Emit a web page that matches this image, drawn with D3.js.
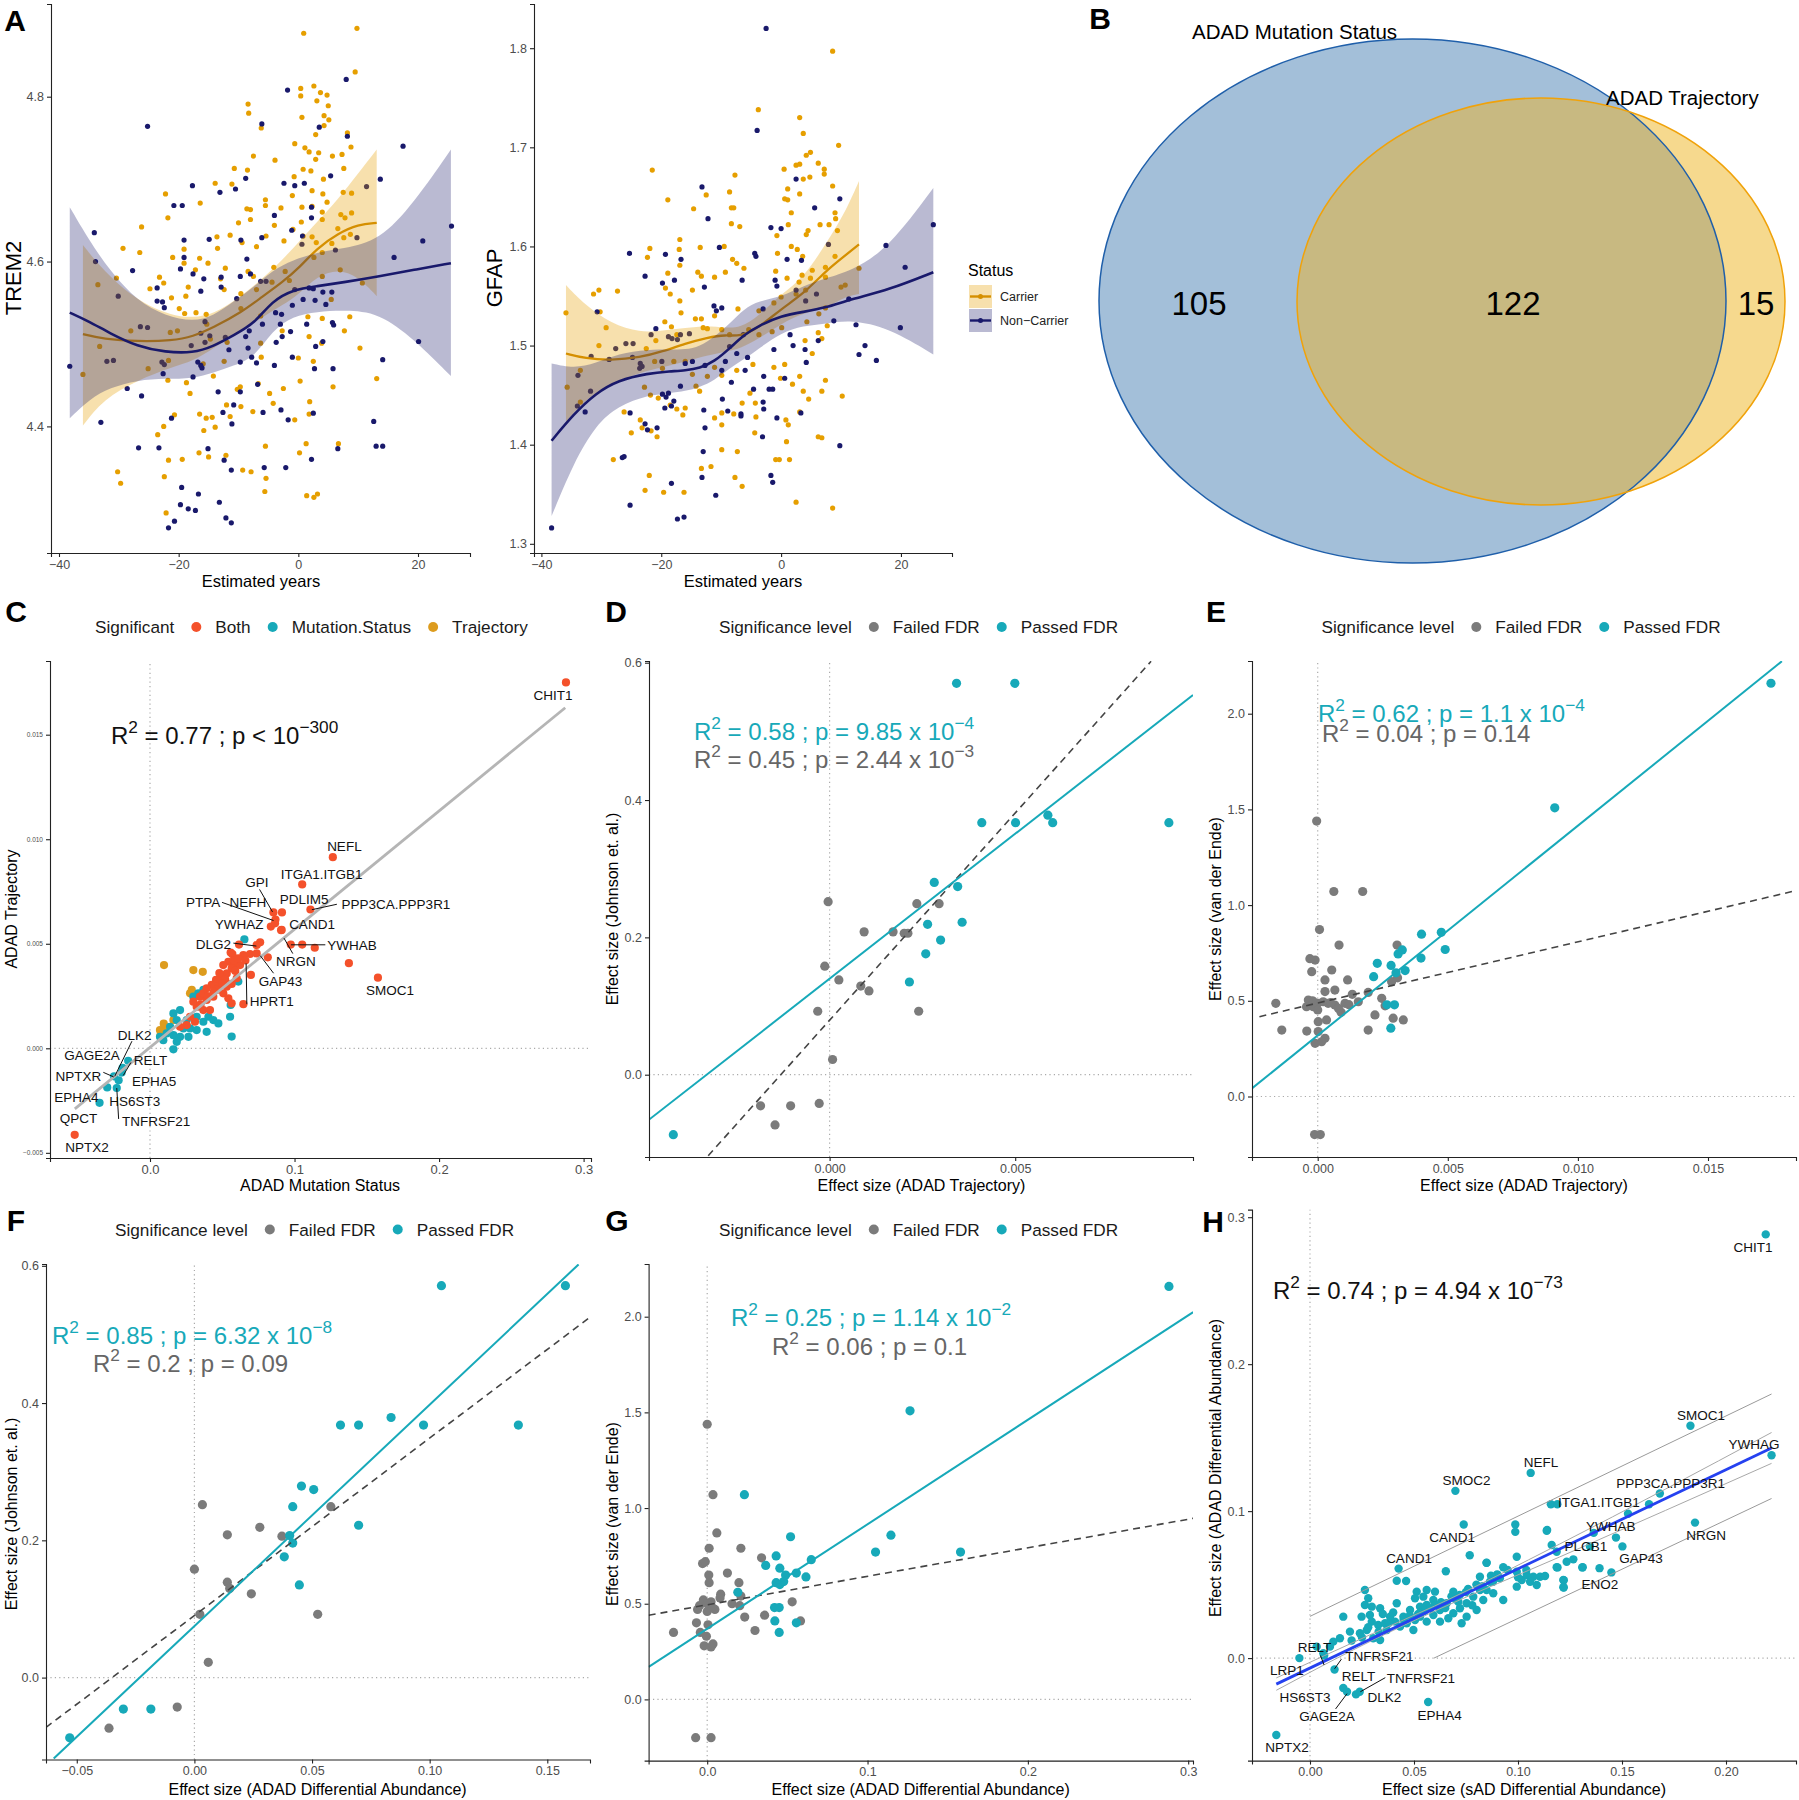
<!DOCTYPE html>
<html>
<head>
<meta charset="utf-8">
<title>ADAD proteomics panels</title>
<style>
  body { margin: 0; background: #fff; }
  svg text { font-family: "Liberation Sans", Arial, Helvetica, sans-serif; }
  .axis path, .axis line { stroke: #222; stroke-width: 1.1px; }
  .axis text { fill: #4d4d4d; }
</style>
</head>
<body>
<div id="fig"></div>
<script src="https://cdnjs.cloudflare.com/ajax/libs/d3/7.8.5/d3.min.js"></script>
<script>
// ---------------- data ----------------

// A: TREM2 / GFAP against estimated years, [years, value]
var trem2Carrier = [[9.8,4.883],[0.9,4.877],[9.5,4.830],[2.6,4.813],[0.4,4.810],[0.4,4.801],[-8.4,4.791],[-8.3,4.780],[3.7,4.805],[4.8,4.802],[3.1,4.795],[5.0,4.789],[0.6,4.775],[4.3,4.777],[5.1,4.772],[4.3,4.765],[-6.2,4.762],[8.2,4.756],[2.9,4.754],[-0.6,4.743],[1.1,4.738],[3.4,4.732],[1.8,4.733],[8.8,4.739],[7.3,4.730],[5.7,4.728],[-7.5,4.728],[-3.9,4.723],[2.9,4.724],[-10.7,4.713],[-8.5,4.711],[0.8,4.712],[7.6,4.713],[2.1,4.710],[-0.7,4.703],[4.2,4.700],[-13.9,4.695],[-11.1,4.694],[2.3,4.686],[7.5,4.684],[8.9,4.683],[-22.2,4.682],[4.1,4.682],[-1.0,4.680],[-5.5,4.675],[-16.4,4.671],[-8.6,4.664],[-8.0,4.663],[-2.9,4.665],[0.6,4.666],[2.3,4.667],[4.0,4.660],[4.8,4.672],[-21.8,4.653],[8.9,4.659],[7.1,4.657],[-5.5,4.668],[-26.2,4.642],[-10.0,4.647],[-8.0,4.651],[-4.0,4.644],[0.5,4.648],[4.0,4.651],[7.8,4.653],[-0.9,4.639],[2.3,4.630],[6.6,4.640],[8.7,4.633],[7.6,4.629],[-29.3,4.616],[-26.5,4.611],[-21.0,4.605],[-19.1,4.615],[-16.5,4.604],[-13.6,4.630],[-13.5,4.616],[-11.4,4.632],[-9.4,4.623],[-7.0,4.618],[-5.4,4.631],[-2.4,4.625],[0.8,4.631],[3.0,4.623],[5.6,4.622],[-19.1,4.598],[-17.2,4.590],[-15.1,4.598],[-12.2,4.592],[-13.0,4.579],[-8.4,4.588],[-7.5,4.582],[-4.1,4.593],[-2.2,4.588],[2.6,4.605],[4.0,4.611],[7.0,4.590],[-23.2,4.581],[-22.5,4.574],[-21.2,4.556],[-18.4,4.569],[-18.8,4.558],[-19.9,4.543],[-19.0,4.537],[-17.1,4.538],[-15.4,4.536],[-24.8,4.567],[-12.4,4.566],[-9.6,4.561],[-7.0,4.566],[-4.4,4.575],[-1.5,4.577],[4.0,4.582],[5.5,4.554],[10.7,4.574],[-33.5,4.572],[-30.4,4.580],[-20.2,4.516],[-15.3,4.524],[-9.6,4.543],[-6.3,4.534],[-2.7,4.516],[1.6,4.533],[4.0,4.531],[8.6,4.533],[7.7,4.516],[-33.2,4.497],[-28.0,4.516],[-21.4,4.514],[-14.7,4.506],[-11.9,4.502],[-6.3,4.501],[1.8,4.509],[3.9,4.501],[10.3,4.495],[-36.0,4.463],[-25.1,4.470],[-21.7,4.480],[-15.9,4.476],[-12.4,4.479],[-6.2,4.484],[0.0,4.483],[2.5,4.479],[-21.8,4.456],[-18.7,4.453],[-18.1,4.440],[-14.2,4.461],[-9.7,4.448],[-6.7,4.452],[-4.8,4.440],[-2.5,4.446],[0.3,4.455],[5.8,4.448],[13.1,4.458],[-10.2,4.445],[-23.5,4.390],[-22.5,4.400],[-20.7,4.414],[-16.5,4.415],[-15.4,4.410],[-14.4,4.411],[-15.8,4.395],[-13.9,4.399],[-12.0,4.426],[-11.4,4.412],[-9.6,4.424],[-7.6,4.418],[-4.2,4.428],[-0.6,4.408],[1.9,4.430],[1.8,4.415],[-22.4,4.339],[-21.7,4.359],[-19.4,4.360],[-16.6,4.368],[-15.0,4.363],[-12.1,4.365],[-9.3,4.347],[-7.9,4.345],[-5.5,4.376],[-5.4,4.337],[-5.6,4.321],[0.2,4.368],[1.3,4.379],[1.4,4.316],[2.6,4.314],[3.2,4.318],[6.7,4.379],[-30.2,4.345],[-29.7,4.331],[-22.1,4.295]];
var trem2NonCarrier = [[8.0,4.821],[-1.8,4.808],[-25.2,4.764],[-6.1,4.767],[3.5,4.763],[8.2,4.752],[17.5,4.740],[-8.8,4.701],[-2.4,4.695],[-0.6,4.692],[1.0,4.695],[5.4,4.704],[13.7,4.700],[11.4,4.691],[-17.7,4.692],[-10.5,4.688],[-13.1,4.684],[-20.8,4.668],[-19.4,4.668],[2.2,4.666],[-4.0,4.656],[2.2,4.653],[-34.1,4.635],[-1.1,4.638],[25.6,4.643],[20.8,4.625],[-19.1,4.626],[-14.9,4.627],[-9.6,4.626],[-6.1,4.629],[0.6,4.621],[-19.1,4.605],[-8.6,4.603],[0.7,4.631],[9.8,4.629],[6.2,4.614],[16.0,4.605],[-33.9,4.600],[-19.7,4.591],[-27.7,4.589],[-17.6,4.585],[-15.8,4.579],[-12.9,4.581],[-9.7,4.582],[-8.0,4.585],[-12.9,4.569],[-16.3,4.564],[-5.4,4.576],[-0.6,4.566],[1.8,4.568],[2.5,4.567],[4.1,4.563],[5.6,4.563],[-23.6,4.568],[-30.1,4.558],[-10.3,4.555],[-6.3,4.576],[-23.6,4.552],[-22.7,4.551],[-22.4,4.544],[-3.8,4.538],[-2.8,4.536],[-1.0,4.547],[0.8,4.554],[2.8,4.553],[4.6,4.548],[-26.4,4.521],[-25.2,4.520],[-15.6,4.527],[-16.3,4.513],[-8.2,4.516],[-6.0,4.524],[-3.0,4.524],[1.4,4.524],[5.7,4.526],[5.9,4.523],[-1.3,4.515],[-2.7,4.509],[-8.8,4.509],[-3.7,4.502],[-14.8,4.510],[-12.2,4.508],[-15.6,4.502],[2.9,4.497],[4.1,4.503],[-17.9,4.498],[-8.4,4.495],[-7.8,4.484],[-11.6,4.493],[-16.8,4.478],[-22.8,4.478],[-22.4,4.475],[-32.0,4.479],[-30.9,4.480],[-38.2,4.473],[-22.6,4.464],[-17.6,4.460],[-16.1,4.471],[-16.3,4.474],[-9.7,4.478],[-7.0,4.477],[-4.0,4.474],[-1.0,4.484],[2.7,4.470],[5.8,4.470],[14.1,4.481],[20.1,4.503],[-28.6,4.446],[-26.2,4.437],[-13.4,4.442],[-6.8,4.451],[-2.9,4.420],[-5.9,4.417],[-1.7,4.408],[2.5,4.416],[-9.7,4.442],[-12.6,4.417],[-10.8,4.426],[-11.1,4.403],[-33.0,4.405],[-21.2,4.410],[12.6,4.406],[-26.7,4.374],[-23.3,4.374],[-15.1,4.373],[-12.4,4.359],[13.0,4.376],[14.1,4.376],[6.6,4.373],[2.2,4.360],[-5.7,4.350],[-2.1,4.350],[-11.2,4.347],[-19.5,4.326],[-16.7,4.318],[-13.2,4.308],[-19.7,4.305],[-18.4,4.300],[-17.2,4.298],[-12.1,4.289],[-11.2,4.283],[-20.7,4.285],[-21.7,4.277]];
// loess fits: [years, fit, lower, upper]
var trem2CarrierFit = [[-36.0,4.512,4.401,4.620],[-32.6,4.506,4.433,4.589],[-26.9,4.503,4.456,4.552],[-21.1,4.504,4.472,4.534],[-17.6,4.509,4.479,4.532],[-14.2,4.520,4.495,4.536],[-9.6,4.538,4.516,4.557],[-6.1,4.557,4.532,4.579],[-2.65,4.575,4.547,4.602],[0.23,4.593,4.561,4.625],[3.1,4.616,4.582,4.648],[6.6,4.634,4.591,4.675],[10.0,4.645,4.582,4.707],[13.1,4.647,4.558,4.736]];
var trem2NonCarrierFit = [[-38.2,4.538,4.410,4.666],[-34.9,4.527,4.433,4.625],[-31.5,4.513,4.447,4.589],[-26.9,4.497,4.456,4.552],[-22.2,4.490,4.458,4.534],[-17.6,4.489,4.458,4.527],[-14.2,4.497,4.465,4.534],[-10.7,4.511,4.474,4.552],[-7.3,4.525,4.484,4.570],[-4.4,4.552,4.516,4.589],[-0.9,4.566,4.534,4.602],[3.1,4.570,4.539,4.611],[7.7,4.575,4.541,4.616],[13.5,4.582,4.538,4.625],[19.3,4.590,4.506,4.671],[25.5,4.598,4.461,4.736]];

var gfapCarrier = [[8.6,1.797],[-3.8,1.738],[3.1,1.730],[3.7,1.714],[9.6,1.702],[4.2,1.692],[4.9,1.695],[2.5,1.682],[3.1,1.683],[6.2,1.684],[7.2,1.678],[7.2,1.673],[0.5,1.678],[3.7,1.668],[4.8,1.670],[-21.5,1.677],[-7.7,1.672],[1.1,1.658],[3.1,1.653],[8.6,1.661],[-18.9,1.647],[-12.5,1.652],[0.6,1.648],[1.1,1.647],[-8.6,1.655],[-14.6,1.638],[-8.3,1.639],[-7.9,1.639],[1.7,1.634],[9.0,1.634],[9.1,1.628],[-16.9,1.607],[-13.5,1.599],[-8.3,1.623],[-6.9,1.620],[-0.7,1.611],[1.2,1.622],[4.2,1.612],[4.5,1.616],[6.5,1.622],[8.0,1.622],[9.4,1.616],[-21.9,1.598],[-22.3,1.589],[-17.0,1.597],[-9.5,1.600],[-0.6,1.593],[1.7,1.600],[2.7,1.597],[3.6,1.590],[9.0,1.590],[-31.3,1.552],[-30.4,1.556],[-27.3,1.555],[-18.9,1.573],[-16.9,1.581],[-13.9,1.574],[-13.3,1.570],[-11.1,1.569],[-9.3,1.574],[-8.1,1.587],[-7.4,1.583],[-6.2,1.578],[-0.9,1.575],[1.0,1.568],[3.0,1.564],[3.5,1.571],[5.2,1.576],[7.4,1.579],[7.4,1.569],[10.0,1.559],[10.7,1.561],[13.0,1.578],[-35.9,1.533],[-30.2,1.534],[-29.2,1.518],[-30.4,1.500],[-19.3,1.558],[-18.5,1.552],[-16.9,1.545],[-14.8,1.556],[-16.7,1.533],[-14.3,1.527],[-13.3,1.527],[-12.3,1.517],[-11.1,1.530],[-7.2,1.537],[-3.7,1.535],[-1.2,1.543],[0.0,1.549],[2.5,1.552],[4.1,1.556],[4.9,1.568],[6.3,1.532],[7.4,1.538],[7.7,1.520],[-19.4,1.524],[-18.3,1.519],[-17.4,1.511],[-20.9,1.505],[-22.5,1.497],[-13.0,1.518],[-9.9,1.516],[-8.6,1.511],[-5.4,1.516],[-3.7,1.511],[-1.5,1.514],[0.1,1.518],[4.3,1.524],[6.2,1.513],[4.0,1.505],[5.2,1.492],[6.8,1.507],[-35.7,1.458],[-33.5,1.475],[-33.5,1.443],[-26.2,1.433],[-22.8,1.458],[-21.8,1.450],[-20.5,1.447],[-23.5,1.425],[-23.2,1.417],[-21.7,1.414],[-20.7,1.408],[-25.0,1.412],[-21.1,1.484],[-19.8,1.477],[-17.9,1.484],[-16.0,1.484],[-14.8,1.471],[-12.3,1.469],[-11.1,1.478],[-9.9,1.470],[-7.4,1.475],[-4.7,1.481],[-1.2,1.478],[-0.1,1.467],[0.6,1.481],[1.9,1.461],[3.1,1.469],[3.7,1.454],[4.6,1.446],[6.8,1.454],[7.4,1.465],[3.1,1.433],[10.2,1.449],[-18.5,1.440],[-17.4,1.436],[-16.4,1.430],[-16.0,1.437],[-14.2,1.459],[-13.6,1.454],[-11.1,1.427],[-9.9,1.420],[-9.9,1.432],[-7.9,1.431],[-6.5,1.442],[-5.2,1.452],[-4.3,1.442],[-4.2,1.428],[-4.4,1.412],[0.8,1.425],[0.9,1.403],[1.2,1.420],[-0.9,1.385],[-0.3,1.385],[1.4,1.385],[6.2,1.408],[6.8,1.407],[-28.0,1.385],[-22.0,1.369],[-22.7,1.354],[-19.6,1.352],[-16.2,1.352],[-13.3,1.376],[-11.7,1.378],[-9.9,1.395],[-7.7,1.367],[-7.3,1.393],[-6.5,1.358],[2.5,1.342],[8.6,1.336]];
var gfapNonCarrier = [[-2.5,1.820],[-4.0,1.717],[2.5,1.668],[9.8,1.648],[-13.2,1.660],[-12.2,1.628],[5.6,1.639],[-1.7,1.619],[0.0,1.618],[7.9,1.602],[17.5,1.601],[25.4,1.622],[-25.3,1.593],[-19.3,1.592],[-10.3,1.599],[-4.4,1.593],[-4.2,1.590],[1.0,1.587],[3.4,1.586],[-16.7,1.587],[20.7,1.579],[-22.7,1.570],[-19.8,1.563],[-6.5,1.566],[-1.0,1.566],[-0.7,1.560],[-17.8,1.566],[-12.8,1.559],[-11.2,1.540],[-9.9,1.538],[-10.8,1.535],[-3.0,1.537],[2.5,1.556],[4.1,1.545],[5.9,1.552],[-30.7,1.534],[-21.7,1.511],[-20.9,1.517],[-17.3,1.506],[-16.8,1.511],[-15.3,1.512],[-18.2,1.507],[-18.8,1.509],[-25.9,1.502],[-24.7,1.502],[-27.6,1.497],[-28.7,1.486],[-31.7,1.489],[-24.8,1.488],[-23.5,1.482],[-23.2,1.479],[-23.6,1.477],[-19.9,1.484],[-16.0,1.482],[-14.8,1.484],[-12.7,1.480],[-8.6,1.499],[-7.4,1.492],[-9.3,1.484],[-8.3,1.463],[-9.9,1.475],[-6.0,1.475],[-5.6,1.488],[-6.3,1.511],[-1.2,1.496],[1.5,1.511],[2.0,1.500],[6.2,1.505],[4.2,1.483],[4.0,1.496],[8.8,1.525],[11.3,1.547],[12.5,1.521],[19.9,1.518],[13.0,1.491],[14.0,1.500],[15.9,1.485],[-33.9,1.470],[-31.8,1.454],[-32.7,1.433],[-34.0,1.439],[-25.2,1.432],[-22.7,1.421],[-22.3,1.415],[-20.7,1.417],[-19.8,1.451],[-19.2,1.448],[-19.4,1.437],[-18.8,1.452],[-18.3,1.439],[-17.9,1.444],[-16.8,1.459],[-12.9,1.435],[-12.7,1.417],[-9.8,1.446],[-8.9,1.434],[-6.7,1.431],[-6.7,1.429],[-4.6,1.456],[-2.9,1.436],[-3.0,1.443],[-2.0,1.456],[-1.4,1.456],[-0.7,1.427],[-2.9,1.469],[0.6,1.467],[3.3,1.432],[-3.1,1.408],[9.8,1.399],[-13.0,1.393],[-13.2,1.367],[-18.3,1.361],[-26.5,1.387],[-26.2,1.388],[-25.2,1.339],[-17.3,1.325],[-16.2,1.327],[-10.9,1.349],[-1.7,1.369],[-1.4,1.362],[-38.3,1.316]];
var gfapCarrierFit = [[-35.9,1.492,1.423,1.561],[-32.7,1.487,1.446,1.541],[-28.4,1.485,1.461,1.522],[-23.5,1.488,1.473,1.513],[-19.8,1.494,1.478,1.515],[-16.0,1.502,1.484,1.518],[-12.3,1.508,1.490,1.520],[-9.3,1.511,1.494,1.518],[-6.8,1.509,1.497,1.518],[-3.7,1.518,1.507,1.530],[0.0,1.537,1.522,1.552],[3.7,1.552,1.533,1.568],[7.4,1.575,1.537,1.602],[10.5,1.590,1.549,1.632],[13.0,1.602,1.552,1.666]];
var gfapNonCarrierFit = [[-38.3,1.404,1.328,1.482],[-34.6,1.431,1.382,1.477],[-30.9,1.452,1.420,1.482],[-27.2,1.465,1.439,1.492],[-22.2,1.472,1.450,1.496],[-18.5,1.474,1.452,1.496],[-16.0,1.475,1.454,1.496],[-13.6,1.477,1.458,1.499],[-11.1,1.484,1.465,1.509],[-8.6,1.497,1.477,1.522],[-6.2,1.511,1.486,1.537],[-3.7,1.520,1.497,1.545],[0.0,1.530,1.513,1.549],[3.7,1.534,1.520,1.560],[7.4,1.538,1.522,1.568],[11.7,1.547,1.526,1.575],[17.9,1.556,1.518,1.598],[25.4,1.574,1.491,1.659]];
var statusLabels = ['Carrier', 'Non\u2212Carrier'];

// B: Venn counts
var vennSets = ['ADAD Mutation Status', 'ADAD Trajectory'];
var vennCounts = [105, 122, 15];

// C: ADAD Mutation Status vs ADAD Trajectory
var cBoth = [[0.2878,0.0175],[0.1265,0.00914],[0.1053,0.00784],[0.111,0.00664],[0.0854,0.0065],[0.0913,0.0065],[0.0868,0.00616],[0.0836,0.00582],[0.0907,0.00565],[0.0974,0.00496],[0.1053,0.00496],[0.114,0.00481],[0.1376,0.00407],[0.1577,0.00338],[0.0698,0.00351],[0.0815,0.00435],[0.0616,0.00496],[0.0762,0.00507],[0.057,0.0045],[0.0646,0.00211],[0.0865,0.00598],[0.0911,0.00566],[0.0738,0.00494],[0.0558,0.00458],[0.0646,0.00446],[0.0692,0.00451],[0.0738,0.00454],[0.0542,0.00414],[0.0588,0.00406],[0.0623,0.00398],[0.0507,0.00398],[0.0565,0.00382],[0.0531,0.00358],[0.0496,0.00342],[0.0457,0.00327],[0.0427,0.00303],[0.0392,0.00287],[0.0473,0.00295],[0.0531,0.00295],[0.0565,0.00308],[0.0507,0.00263],[0.0542,0.00239],[0.0565,0.00215],[0.0346,0.00247],[0.0392,0.00231],[0.0438,0.00247],[0.0323,0.00199],[0.0369,0.00183],[0.0415,0.00183],[0.0277,0.00151],[0.0311,0.00127],[0.0254,0.00111],[0.0208,0.00103],[0.0600,0.00335],[0.0461,0.00279],[0.0369,0.00263],[0.0300,0.00223],[0.0480,0.00360],[0.0520,0.00330],[0.0590,0.00370],[0.0440,0.00270],[0.0350,0.00210],[0.0580,0.00420],[0.0610,0.00430],[0.0660,0.00420],[0.0400,0.00250],[0.0500,0.00310],[-0.0521,-0.00414]];
var cMutation = [[0.0653,0.00521],[0.0611,0.00319],[0.0554,0.00151],[0.0565,0.00056],[0.0558,0.00207],[0.0369,0.00279],[0.0334,0.00263],[0.0300,0.00247],[0.0346,0.00199],[0.0404,0.00151],[0.0438,0.00135],[0.0473,0.00119],[0.0369,0.00127],[0.0323,0.00151],[0.0208,0.00183],[0.0162,0.00167],[0.0185,0.00135],[0.0254,0.00135],[0.0231,0.00095],[0.0277,0.00095],[0.0323,0.00087],[0.0139,0.00103],[0.0115,0.00071],[0.0162,0.00063],[0.0208,0.00055],[0.0266,0.00055],[0.0092,0.00039],[0.0069,0.00055],[0.0162,-0.00005],[0.0185,0.00031],[0.0392,0.00079],[-0.0349,-0.00261],[-0.0296,-0.00187],[-0.0230,-0.0019],[-0.0217,-0.00153],[-0.0196,-0.00116],[-0.0249,-0.00134],[-0.0151,-0.0006],[-0.019,-0.00093]];
var cTrajectory = [[0.0097,0.00398],[0.0300,0.00374],[0.0365,0.00366],[0.0289,0.00279],[0.0277,0.00263],[0.0162,0.00135],[0.0104,0.00103],[0.0069,0.00087],[0.0095,0.00118],[0.0074,0.00065]];
var cFit = [[-0.052,-0.0029],[0.2873,0.01629]];
var cLabels = [['CHIT1',0.2789,0.0169],['NEFL',0.1345,0.00965],['ITGA1.ITGB1',0.1187,0.00834],['GPI',0.0740,0.00797],['PDLIM5',0.1066,0.00714],['PPP3CA.PPP3R1',0.1702,0.0069],['PTPA',0.0367,0.00698],['NEFH',0.0678,0.00698],['YWHAZ',0.0616,0.00596],['CAND1',0.1121,0.00596],['DLG2',0.0439,0.00499],['YWHAB',0.1398,0.00495],['NRGN',0.1010,0.00419],['GAP43',0.0903,0.00322],['HPRT1',0.0842,0.00226],['SMOC1',0.1661,0.00276],['DLK2',-0.0106,0.00062],['GAGE2A',-0.0401,-0.00035],['RELT',0.0003,-0.00059],['NPTXR',-0.0495,-0.00134],['EPHA5',0.0028,-0.00156],['EPHA4',-0.0509,-0.00236],['HS6ST3',-0.0106,-0.00251],['QPCT',-0.0495,-0.00335],['TNFRSF21',0.0042,-0.00348],['NPTX2',-0.0436,-0.00472]];
var cLeaders = [[0.1293,0.00689,0.1120,0.00663],[0.0498,0.00698,0.0855,0.00611],[0.0758,0.0076,0.0848,0.00652],[0.0577,0.00503,0.0736,0.00489],[0.1213,0.00495,0.0975,0.00495],[0.0988,0.00453,0.0927,0.00527],[0.0855,0.00359,0.0763,0.00443],[0.0670,0.00211,0.0665,0.00406],[-0.0125,0.00034,-0.0244,-0.00134],[-0.0132,-0.00068,-0.0185,-0.0013],[-0.0323,-0.00115,-0.0251,-0.00137],[-0.0217,-0.00338,-0.0230,-0.0019]];

// D: ADAD Trajectory vs Johnson et al.
var dPassed = [[0.00342,0.570],[0.00499,0.570],[0.0041,0.367],[0.00501,0.367],[0.00588,0.378],[0.00601,0.367],[0.00914,0.367],[0.00282,0.280],[0.00345,0.274],[0.00264,0.219],[0.00357,0.222],[0.00299,0.196],[0.00259,0.176],[0.00215,0.135],[-0.00421,-0.0873]];
var dFailed = [[-0.00004,0.252],[0.00235,0.249],[0.00295,0.249],[0.00093,0.208],[0.00171,0.208],[0.00201,0.206],[0.00211,0.206],[-0.00013,0.158],[0.00025,0.138],[0.00084,0.129],[0.00106,0.122],[-0.00032,0.0924],[0.0024,0.0924],[0.00008,0.0221],[-0.00186,-0.0453],[-0.00105,-0.0453],[-0.00028,-0.0419],[-0.00147,-0.0731]];
var dFitPassed = [[-0.00487,-0.0657],[0.00979,0.553]];
var dFitAll = [[-0.00327,-0.118],[0.00866,0.602]];

// E: ADAD Trajectory vs van der Ende
var ePassed = [[0.01742,2.159],[0.00911,1.508],[0.00399,0.848],[0.00475,0.858],[0.0049,0.768],[0.00397,0.723],[0.00309,0.745],[0.00325,0.766],[0.00229,0.696],[0.00282,0.685],[0.00336,0.658],[0.00215,0.626],[0.00301,0.646],[0.00266,0.479],[0.00295,0.479],[0.00281,0.357]];
var eFailed = [[-0.00004,1.439],[0.00062,1.071],[0.00173,1.071],[0.00007,0.872],[0.00082,0.791],[0.00305,0.791],[-0.00012,-0.199],[0.0001,-0.199],[-0.0001,0.713],[-0.00023,0.652],[0.00054,0.661],[0.00028,0.609],[0.00115,0.609],[0.00066,0.556],[0.00028,0.548],[-0.00036,0.504],[-0.00017,0.495],[0.0,0.487],[0.00021,0.495],[0.0004,0.487],[0.00066,0.478],[-0.00017,0.469],[0.0,0.452],[-0.00043,0.469],[-0.00161,0.487],[-0.00138,0.347],[-0.00042,0.342],[0.00002,0.391],[0.00034,0.400],[0.00002,0.339],[0.00028,0.304],[-0.0001,0.278],[0.00015,0.286],[0.0009,0.440],[0.00105,0.487],[0.00133,0.534],[0.00156,0.495],[0.00194,0.544],[0.0022,0.426],[0.00194,0.347],[0.00259,0.474],[0.00246,0.513],[0.0029,0.409],[0.00329,0.400],[0.00284,0.600],[0.00307,0.620],[0.0012,0.480],[-0.0003,0.72],[-0.0002,0.50],[0.0005,0.49],[0.0008,0.46]];
var eFitPassed = [[-0.00254,0.0407],[0.01784,2.274]];
var eFitAll = [[-0.00224,0.417],[0.01836,1.075]];

// F: ADAD Differential Abundance vs Johnson et al.
var fPassed = [[0.105,0.571],[0.1577,0.571],[0.0621,0.368],[0.0698,0.368],[0.0836,0.379],[0.0974,0.368],[0.1377,0.368],[0.0455,0.279],[0.0507,0.274],[0.0418,0.249],[0.0698,0.222],[0.0405,0.207],[0.0418,0.196],[0.0382,0.176],[0.0446,0.135],[-0.0302,-0.0458],[-0.0185,-0.0458],[-0.053,-0.0877]];
var fFailed = [[0.0034,0.252],[0.058,0.249],[0.0278,0.219],[0.014,0.208],[0.0372,0.206],[0.0,0.158],[0.014,0.139],[0.015,0.130],[0.0242,0.122],[0.0023,0.0922],[0.0524,0.0922],[0.0059,0.0223],[-0.0073,-0.043],[-0.0363,-0.0737]];
var fFitPassed = [[-0.0598,-0.118],[0.1633,0.602]];
var fFitAll = [[-0.0631,-0.0726],[0.1681,0.525]];

// G: ADAD Differential Abundance vs van der Ende
var gPassed = [[0.288,2.158],[0.1265,1.508],[0.0232,1.070],[0.1146,0.858],[0.052,0.850],[0.105,0.770],[0.158,0.770],[0.0649,0.730],[0.043,0.750],[0.0365,0.700],[0.0453,0.686],[0.0489,0.650],[0.0556,0.660],[0.0616,0.640],[0.043,0.610],[0.0453,0.600],[0.0477,0.616],[0.0191,0.560],[0.042,0.480],[0.0449,0.480],[0.0422,0.410],[0.0556,0.400],[0.0449,0.350]];
var gFailed = [[0.0,1.438],[0.0036,1.070],[0.006,0.870],[0.0012,0.790],[0.021,0.790],[0.0339,0.740],[-0.0029,0.710],[-0.0012,0.720],[0.001,0.650],[0.0012,0.610],[0.0126,0.660],[0.0084,0.550],[0.0198,0.610],[0.021,0.540],[0.0155,0.500],[0.053,0.510],[-0.0048,0.490],[-0.0024,0.520],[0.0024,0.510],[0.0048,0.470],[-0.006,0.470],[0.0,0.460],[0.0203,0.490],[0.0358,0.440],[0.0234,0.430],[-0.021,0.350],[-0.0067,0.400],[-0.0043,0.350],[0.0005,0.390],[-0.0005,0.330],[0.0298,0.360],[-0.0019,0.280],[0.0024,0.274],[0.0036,0.290],[0.0582,0.410],[-0.0072,-0.200],[0.0024,-0.200],[0.008,0.53],[0.0,0.50],[0.003,0.48]];
var gFitPassed = [[-0.0365,0.17],[0.3031,2.024]];
var gFitAll = [[-0.0365,0.44],[0.3031,0.946]];

// H: sAD vs ADAD differential abundance
var hPoints = [[0.2191,0.2883],[0.1829,0.1581],[0.2219,0.138],[0.1061,0.126],[0.0699,0.1138],[0.1682,0.112],[0.163,0.1047],[0.1158,0.1047],[0.1189,0.1047],[0.1851,0.0922],[0.0739,0.0909],[0.1529,0.0982],[0.1364,0.0852],[0.1471,0.082],[0.1502,0.076],[0.1346,0.076],[0.1449,0.0583],[0.114,0.0872],[0.0987,0.0909],[0.0987,0.0859],[0.0768,0.070],[0.0426,0.0609],[0.0653,0.0591],[0.0417,0.0526],[0.0849,0.0648],[-0.0162,-0.0523],[0.0568,-0.0299],[-0.0051,0.0],[0.0068,0.0018],[0.0118,-0.0078],[0.016,-0.0203],[0.0178,-0.0229],[0.0221,-0.0247],[0.0239,-0.0229],[0.1309,0.0617],[0.1392,0.0612],[0.119,0.0617],[0.122,0.053],[0.122,0.048],[0.016,0.0282],[0.0192,0.018],[0.0144,0.0135],[0.0112,0.0112],[0.024,0.0169],[0.0273,0.0191],[0.0248,0.0282],[0.0288,0.0293],[0.0264,0.0463],[0.028,0.0407],[0.0264,0.0361],[0.0297,0.035],[0.0337,0.0339],[0.0297,0.0248],[0.0328,0.0225],[0.0361,0.0237],[0.0304,0.0135],[0.0337,0.0123],[0.0369,0.0191],[0.0409,0.0248],[0.0385,0.0282],[0.0417,0.0373],[0.0462,0.0525],[0.0433,0.0214],[0.0465,0.0237],[0.0505,0.0259],[0.0497,0.0191],[0.0449,0.0282],[0.0481,0.0327],[0.0513,0.0452],[0.0545,0.0418],[0.0505,0.0407],[0.0529,0.035],[0.0561,0.0361],[0.0593,0.0395],[0.0601,0.0452],[0.0561,0.0463],[0.0529,0.0282],[0.0561,0.0248],[0.0593,0.0293],[0.0625,0.0327],[0.0657,0.0373],[0.0689,0.0452],[0.0625,0.0248],[0.0665,0.0271],[0.0689,0.0305],[0.0721,0.0339],[0.0753,0.0373],[0.0713,0.0384],[0.0785,0.0418],[0.0753,0.0282],[0.0729,0.0237],[0.0801,0.0327],[0.0833,0.0395],[0.0817,0.0463],[0.0849,0.0463],[0.0881,0.0441],[0.0929,0.0395],[0.0865,0.052],[0.0817,0.0554],[0.0913,0.0543],[0.0929,0.0618],[0.0849,0.0649],[0.0994,0.0588],[0.0994,0.0486],[0.1018,0.0531],[0.1042,0.0565],[0.1074,0.0554],[0.1106,0.0554],[0.1058,0.052],[0.109,0.0497],[0.113,0.0559],[0.0994,0.069],[0.1138,0.0867],[0.1162,0.077],[0.1186,0.0724],[0.1234,0.0656],[0.1266,0.0672],[0.1186,0.0618],[0.1218,0.0531],[0.1218,0.0482],[0.1311,0.0618],[0.0064,0.0033],[0.0032,0.0078],[0.0096,0.0078],[0.035,0.030],[0.040,0.031],[0.045,0.026],[0.055,0.032],[0.060,0.036],[0.065,0.034],[0.070,0.040],[0.075,0.045],[0.078,0.036],[0.083,0.049],[0.088,0.052],[0.090,0.057],[0.095,0.060],[0.100,0.055],[0.104,0.060],[0.020,0.012],[0.025,0.014],[0.028,0.021],[0.033,0.018],[0.038,0.024],[0.048,0.029],[0.052,0.030],[0.058,0.034],[0.063,0.038],[0.068,0.042],[0.072,0.043],[0.076,0.047],[0.080,0.050],[0.087,0.056]];
var hFit = [[-0.0162,-0.0177],[0.2219,0.143]];
var hBandUpper = [[-0.0162,-0.0135],[0.03,0.0166],[0.06,0.0355],[0.12,0.0776],[0.2219,0.1535]];
var hBandLower = [[-0.0162,-0.0219],[0.03,0.0121],[0.06,0.032],[0.12,0.0688],[0.2219,0.1325]];
var hPredUpper = [[0.0,0.0284],[0.2219,0.1797]];
var hPredLower = [[0.0596,0.0],[0.2219,0.1086]];
var hLabels = [['CHIT1',0.2130,0.2799],['SMOC1',0.1880,0.1654],['YWHAG',0.2135,0.1458],['NEFL',0.1111,0.1334],['SMOC2',0.0753,0.1212],['PPP3CA.PPP3R1',0.1734,0.1191],['ITGA1.ITGB1',0.1389,0.1062],['YWHAB',0.1446,0.0899],['NRGN',0.1904,0.0838],['CAND1',0.0683,0.0825],['PLCB1',0.1326,0.0763],['GAP43',0.1591,0.0677],['CAND1',0.0476,0.0682],['ENO2',0.1394,0.0500],['RELT',0.0022,0.0076],['LRP1',-0.0111,-0.0081],['TNFRSF21',0.0334,0.0014],['RELT',0.0233,-0.0125],['TNFRSF21',0.0533,-0.0133],['HS6ST3',-0.0024,-0.0263],['DLK2',0.0358,-0.0268],['GAGE2A',0.0082,-0.0398],['EPHA4',0.0623,-0.0385],['NPTX2',-0.0111,-0.0607]];
var hLeaders = [[0.005,0.0018,0.0068,-0.0047],[0.0151,-0.0007,0.0118,-0.0073],[0.0362,-0.0133,0.0242,-0.0229],[0.0123,-0.0346,0.0178,-0.0242]];

// ---------------- drawing ----------------
var W = 1799, H = 1800;
var col = { orange: '#E69F00', navy: '#19196B', teal: '#17A9B9', grey: '#7B7B7B',
            red: '#F4512B', traj: '#DD9C1E', blue: '#2541F0', fitGrey: '#B5B5B5' };
var TITLE = 16, LEG = 17.2;

var svg = d3.select('#fig').append('svg').attr('width', W).attr('height', H);
svg.append('rect').attr('width', W).attr('height', H).attr('fill', '#fff');
var defs = svg.append('defs');

// linear scale calibrated by two tick positions, spanning the axis extent a..b
function calScale(c, a, b) {
  var s = d3.scaleLinear().domain([c[0], c[2]]).range([c[1], c[3]]);
  return d3.scaleLinear().domain([s.invert(a), s.invert(b)]).range([a, b]);
}

function frame(o) {
  var g = svg.append('g');
  var x = calScale(o.xc, o.left, o.right);
  var y = calScale(o.yc, o.bottom, o.top);
  defs.append('clipPath').attr('id', 'clip-' + o.id).append('rect')
    .attr('x', o.left).attr('y', o.top).attr('width', o.right - o.left).attr('height', o.bottom - o.top);
  var under = g.append('g').attr('clip-path', 'url(#clip-' + o.id + ')');
  var plot = g.append('g').attr('clip-path', 'url(#clip-' + o.id + ')');
  var xa = g.append('g').attr('class', 'axis').attr('transform', 'translate(0,' + o.bottom + ')')
    .call(d3.axisBottom(x).tickValues(o.xt).tickFormat(function(d, i) { return o.xl[i]; })
      .tickSizeOuter(0).tickSize(4).tickPadding(3));
  xa.selectAll('text').attr('font-size', o.xfs || 12.5);
  var ya = g.append('g').attr('class', 'axis').attr('transform', 'translate(' + o.left + ',0)')
    .call(d3.axisLeft(y).tickValues(o.yt).tickFormat(function(d, i) { return o.yl[i]; })
      .tickSizeOuter(0).tickSize(4).tickPadding(3));
  ya.selectAll('text').attr('font-size', o.yfs || 12.5);
  g.append('text').attr('x', o.xTitle[1]).attr('y', o.xTitle[2]).attr('text-anchor', 'middle')
    .attr('dy', '0.35em').attr('font-size', o.titleSize || TITLE).text(o.xTitle[0]);
  g.append('text').attr('transform', 'translate(' + o.yTitle[1] + ',' + o.yTitle[2] + ') rotate(-90)')
    .attr('text-anchor', 'middle').attr('dy', '0.35em').attr('font-size', o.yTitleSize || o.titleSize || TITLE).text(o.yTitle[0]);
  return { g: g, under: under, plot: plot, x: x, y: y };
}

function zeroLines(f) {
  var dx = f.x.domain(), dy = f.y.domain();
  f.under.append('line').attr('x1', f.x(0)).attr('x2', f.x(0)).attr('y1', f.y(dy[0])).attr('y2', f.y(dy[1]))
    .attr('stroke', '#aaa').attr('stroke-width', 1.2).attr('stroke-dasharray', '1.2,3.2');
  f.under.append('line').attr('y1', f.y(0)).attr('y2', f.y(0)).attr('x1', f.x(dx[0])).attr('x2', f.x(dx[1]))
    .attr('stroke', '#aaa').attr('stroke-width', 1.2).attr('stroke-dasharray', '1.2,3.2');
}

function dots(f, data, r, color) {
  f.plot.append('g').selectAll('circle').data(data).join('circle')
    .attr('cx', function(d) { return f.x(d[0]); }).attr('cy', function(d) { return f.y(d[1]); })
    .attr('r', r).attr('fill', color);
}

function seg(f, p, color, width, dash) {
  f.plot.append('line').attr('x1', f.x(p[0][0])).attr('y1', f.y(p[0][1]))
    .attr('x2', f.x(p[1][0])).attr('y2', f.y(p[1][1]))
    .attr('stroke', color).attr('stroke-width', width).attr('stroke-dasharray', dash || null);
}

// text with superscripts: parts starting with '^' are raised
function rich(x, y, parts, size, color) {
  var t = svg.append('text').attr('x', x).attr('y', y).attr('font-size', size).attr('fill', color);
  var up = false;
  parts.forEach(function(p) {
    var sup = p.charAt(0) === '^';
    var s = t.append('tspan').text(sup ? p.slice(1) : p);
    if (sup) {
      s.attr('font-size', size * 0.72);
      if (!up) { s.attr('dy', -0.45 * size); up = true; }
    } else if (up) { s.attr('dy', 0.45 * size); up = false; }
  });
}

function legendRow(x, y, title, items, size) {
  var g = svg.append('g');
  var t = g.append('text').attr('x', x).attr('y', y).attr('dy', '0.35em').attr('font-size', size)
    .attr('fill', '#1a1a1a').text(title);
  var cx = x + t.node().getComputedTextLength() + 22;
  items.forEach(function(it) {
    g.append('circle').attr('cx', cx).attr('cy', y).attr('r', 5).attr('fill', it[1]);
    var l = g.append('text').attr('x', cx + 19).attr('y', y).attr('dy', '0.35em').attr('font-size', size)
      .attr('fill', '#1a1a1a').text(it[0]);
    cx = cx + 19 + l.node().getComputedTextLength() + 22;
  });
}

function letter(t, x, y) {
  svg.append('text').attr('x', x).attr('y', y).attr('text-anchor', 'middle').attr('dy', '0.36em')
    .attr('font-size', 30).attr('font-weight', 'bold').text(t);
}

function labels(f, list, leaders, size) {
  leaders.forEach(function(s) {
    f.g.append('line').attr('x1', f.x(s[0])).attr('y1', f.y(s[1])).attr('x2', f.x(s[2])).attr('y2', f.y(s[3]))
      .attr('stroke', '#111').attr('stroke-width', 1);
  });
  list.forEach(function(l) {
    f.g.append('text').attr('x', f.x(l[1])).attr('y', f.y(l[2])).attr('text-anchor', 'middle')
      .attr('dy', '0.36em').attr('font-size', size).attr('fill', '#111').text(l[0]);
  });
}

// ---- A: smooth panels ----
function smoothPanel(o, carrier, nonCarrier, cFitD, nFitD) {
  var f = frame(o);
  dots(f, carrier, 2.6, col.orange);
  dots(f, nonCarrier, 2.6, col.navy);
  var area = d3.area().curve(d3.curveBasis).x(function(d) { return f.x(d[0]); })
    .y0(function(d) { return f.y(d[2]); }).y1(function(d) { return f.y(d[3]); });
  var line = d3.line().curve(d3.curveBasis).x(function(d) { return f.x(d[0]); })
    .y(function(d) { return f.y(d[1]); });
  f.plot.append('path').attr('d', area(cFitD)).attr('fill', col.orange).attr('fill-opacity', 0.32);
  f.plot.append('path').attr('d', line(cFitD)).attr('fill', 'none').attr('stroke', '#D58F00').attr('stroke-width', 2.3);
  f.plot.append('path').attr('d', area(nFitD)).attr('fill', col.navy).attr('fill-opacity', 0.3);
  f.plot.append('path').attr('d', line(nFitD)).attr('fill', 'none').attr('stroke', col.navy).attr('stroke-width', 2.6);
  return f;
}

smoothPanel({ id: 'a1', left: 51, right: 470, top: 4, bottom: 553,
  xc: [-40, 59, 20, 418], yc: [4.4, 426.4, 4.8, 96.7],
  xt: [-40, -20, 0, 20], xl: ['\u221240', '\u221220', '0', '20'],
  yt: [4.4, 4.6, 4.8], yl: ['4.4', '4.6', '4.8'],
  xTitle: ['Estimated years', 261, 581], yTitle: ['TREM2', 13, 278], titleSize: 16.5, yTitleSize: 22 },
  trem2Carrier, trem2NonCarrier, trem2CarrierFit, trem2NonCarrierFit);

smoothPanel({ id: 'a2', left: 534, right: 952, top: 4, bottom: 553,
  xc: [-40, 541.4, 0, 781.1], yc: [1.3, 543.8, 1.8, 48.2],
  xt: [-40, -20, 0, 20], xl: ['\u221240', '\u221220', '0', '20'],
  yt: [1.3, 1.4, 1.5, 1.6, 1.7, 1.8], yl: ['1.3', '1.4', '1.5', '1.6', '1.7', '1.8'],
  xTitle: ['Estimated years', 743, 581], yTitle: ['GFAP', 494, 278], titleSize: 16.5, yTitleSize: 22 },
  gfapCarrier, gfapNonCarrier, gfapCarrierFit, gfapNonCarrierFit);

// legend for A
(function() {
  var g = svg.append('g');
  g.append('text').attr('x', 968).attr('y', 270).attr('dy', '0.35em').attr('font-size', 16).text('Status');
  var keys = [[col.orange, 0.32, '#D58F00'], [col.navy, 0.3, col.navy]];
  keys.forEach(function(k, i) {
    var y0 = 285 + i * 24;
    g.append('rect').attr('x', 969).attr('y', y0).attr('width', 23).attr('height', 23)
      .attr('fill', k[0]).attr('fill-opacity', k[1]);
    g.append('line').attr('x1', 970).attr('x2', 991).attr('y1', y0 + 11.5).attr('y2', y0 + 11.5)
      .attr('stroke', k[2]).attr('stroke-width', 2.4);
    g.append('circle').attr('cx', 980.5).attr('cy', y0 + 11.5).attr('r', 2.5).attr('fill', k[2]);
    g.append('text').attr('x', 1000).attr('y', y0 + 11.5).attr('dy', '0.35em').attr('font-size', 12.5)
      .attr('fill', '#222').text(statusLabels[i]);
  });
})();

// ---- B: Venn ----
(function() {
  var g = svg.append('g');
  var big = { cx: 1412.5, cy: 301, rx: 313.5, ry: 262 };
  var small = { cx: 1541, cy: 301.5, rx: 244, ry: 203.5 };
  defs.append('clipPath').attr('id', 'clip-venn').append('ellipse')
    .attr('cx', big.cx).attr('cy', big.cy).attr('rx', big.rx).attr('ry', big.ry);
  g.append('ellipse').attr('cx', big.cx).attr('cy', big.cy).attr('rx', big.rx).attr('ry', big.ry).attr('fill', '#A3BFD9');
  g.append('ellipse').attr('cx', small.cx).attr('cy', small.cy).attr('rx', small.rx).attr('ry', small.ry).attr('fill', '#F6D98E');
  g.append('ellipse').attr('cx', small.cx).attr('cy', small.cy).attr('rx', small.rx).attr('ry', small.ry)
    .attr('fill', '#C8B981').attr('clip-path', 'url(#clip-venn)');
  g.append('ellipse').attr('cx', big.cx).attr('cy', big.cy).attr('rx', big.rx).attr('ry', big.ry)
    .attr('fill', 'none').attr('stroke', '#1F5FAA').attr('stroke-width', 1.5);
  g.append('ellipse').attr('cx', small.cx).attr('cy', small.cy).attr('rx', small.rx).attr('ry', small.ry)
    .attr('fill', 'none').attr('stroke', '#F0A20A').attr('stroke-width', 1.5);
  g.append('text').attr('x', 1192).attr('y', 32).attr('dy', '0.35em').attr('font-size', 20.5).text(vennSets[0]);
  g.append('text').attr('x', 1606).attr('y', 98).attr('dy', '0.35em').attr('font-size', 20.5).text(vennSets[1]);
  [[1199, vennCounts[0]], [1513, vennCounts[1]], [1756, vennCounts[2]]].forEach(function(c) {
    g.append('text').attr('x', c[0]).attr('y', 303).attr('text-anchor', 'middle').attr('dy', '0.36em')
      .attr('font-size', 33).text(c[1]);
  });
})();

// ---- C ----
(function() {
  var f = frame({ id: 'c', left: 50, right: 591, top: 661, bottom: 1158,
    xc: [0, 150, 0.3, 583.6], yc: [0, 1048.3, 0.015, 734.7],
    xt: [0, 0.1, 0.2, 0.3], xl: ['0.0', '0.1', '0.2', '0.3'], xfs: 13,
    yt: [-0.005, 0, 0.005, 0.010, 0.015], yl: ['\u22120.005', '0.000', '0.005', '0.010', '0.015'], yfs: 6.5,
    xTitle: ['ADAD Mutation Status', 320, 1185], yTitle: ['ADAD Trajectory', 11, 909] });
  zeroLines(f);
  dots(f, cTrajectory, 4.1, col.traj);
  dots(f, cMutation, 4.1, col.teal);
  dots(f, cBoth, 4.1, col.red);
  seg(f, cFit, col.fitGrey, 2.8);
  labels(f, cLabels, cLeaders, 13.5);
})();
rich(111, 744, ['R', '^2', ' = 0.77 ; p < 10', '^\u2212300'], 24, '#111');
legendRow(95, 627, 'Significant', [['Both', col.red], ['Mutation.Status', col.teal], ['Trajectory', col.traj]], LEG);

// ---- D ----
(function() {
  var f = frame({ id: 'd', left: 649, right: 1193, top: 661, bottom: 1157,
    xc: [0, 829.6, 0.005, 1015.2], yc: [0, 1074.7, 0.6, 662.7],
    xt: [0, 0.005], xl: ['0.000', '0.005'],
    yt: [0, 0.2, 0.4, 0.6], yl: ['0.0', '0.2', '0.4', '0.6'],
    xTitle: ['Effect size (ADAD Trajectory)', 921.5, 1185], yTitle: ['Effect size (Johnson et. al.)', 612, 909] });
  zeroLines(f);
  dots(f, dFailed, 4.6, col.grey);
  dots(f, dPassed, 4.6, col.teal);
  seg(f, dFitAll, '#444', 1.6, '7,5');
  seg(f, dFitPassed, col.teal, 2);
})();
rich(694, 740, ['R', '^2', ' = 0.58 ; p = 9.85 x 10', '^\u22124'], 24, col.teal);
rich(694, 768, ['R', '^2', ' = 0.45 ; p = 2.44 x 10', '^\u22123'], 24, '#666');
legendRow(719, 627, 'Significance level', [['Failed FDR', col.grey], ['Passed FDR', col.teal]], LEG);

// ---- E ----
(function() {
  var f = frame({ id: 'e', left: 1252, right: 1796, top: 661, bottom: 1157,
    xc: [0, 1317.7, 0.015, 1708], yc: [0, 1096.5, 2.0, 713.7],
    xt: [0, 0.005, 0.010, 0.015], xl: ['0.000', '0.005', '0.010', '0.015'],
    yt: [0, 0.5, 1.0, 1.5, 2.0], yl: ['0.0', '0.5', '1.0', '1.5', '2.0'],
    xTitle: ['Effect size (ADAD Trajectory)', 1524, 1185], yTitle: ['Effect size (van der Ende)', 1215, 909] });
  zeroLines(f);
  dots(f, eFailed, 4.6, col.grey);
  dots(f, ePassed, 4.6, col.teal);
  seg(f, eFitAll, '#444', 1.6, '7,5');
  seg(f, eFitPassed, col.teal, 2);
})();
rich(1318, 722, ['R', '^2', ' = 0.62 ; p = 1.1 x 10', '^\u22124'], 24, col.teal);
rich(1322, 742, ['R', '^2', ' = 0.04 ; p = 0.14'], 24, '#666');
legendRow(1321.5, 627, 'Significance level', [['Failed FDR', col.grey], ['Passed FDR', col.teal]], LEG);

// ---- F ----
(function() {
  var f = frame({ id: 'f', left: 46, right: 590, top: 1264, bottom: 1759.5,
    xc: [0, 194.4, 0.15, 547.3], yc: [0, 1677.6, 0.6, 1265.8],
    xt: [-0.05, 0, 0.05, 0.10, 0.15], xl: ['\u22120.05', '0.00', '0.05', '0.10', '0.15'],
    yt: [0, 0.2, 0.4, 0.6], yl: ['0.0', '0.2', '0.4', '0.6'],
    xTitle: ['Effect size (ADAD Differential Abundance)', 317.6, 1789], yTitle: ['Effect size (Johnson et. al.)', 11, 1514] });
  zeroLines(f);
  dots(f, fFailed, 4.6, col.grey);
  dots(f, fPassed, 4.6, col.teal);
  seg(f, fFitAll, '#444', 1.6, '7,5');
  seg(f, fFitPassed, col.teal, 2);
})();
rich(52, 1343.5, ['R', '^2', ' = 0.85 ; p = 6.32 x 10', '^\u22128'], 24, col.teal);
rich(93, 1372, ['R', '^2', ' = 0.2 ; p = 0.09'], 24, '#666');
legendRow(115, 1229.5, 'Significance level', [['Failed FDR', col.grey], ['Passed FDR', col.teal]], LEG);

// ---- G ----
(function() {
  var f = frame({ id: 'g', left: 648.6, right: 1193, top: 1264, bottom: 1760.6,
    xc: [0, 707.2, 0.3, 1188.2], yc: [0, 1699.4, 2.0, 1316.7],
    xt: [0, 0.1, 0.2, 0.3], xl: ['0.0', '0.1', '0.2', '0.3'],
    yt: [0, 0.5, 1.0, 1.5, 2.0], yl: ['0.0', '0.5', '1.0', '1.5', '2.0'],
    xTitle: ['Effect size (ADAD Differential Abundance)', 920.7, 1789], yTitle: ['Effect size (van der Ende)', 612, 1514] });
  zeroLines(f);
  dots(f, gFailed, 4.6, col.grey);
  dots(f, gPassed, 4.6, col.teal);
  seg(f, gFitAll, '#444', 1.6, '7,5');
  seg(f, gFitPassed, col.teal, 2);
})();
rich(731, 1326, ['R', '^2', ' = 0.25 ; p = 1.14 x 10', '^\u22122'], 24, col.teal);
rich(772, 1355, ['R', '^2', ' = 0.06 ; p = 0.1'], 24, '#666');
legendRow(719, 1229.5, 'Significance level', [['Failed FDR', col.grey], ['Passed FDR', col.teal]], LEG);

// ---- H ----
(function() {
  var f = frame({ id: 'h', left: 1252, right: 1796, top: 1209.6, bottom: 1760.6,
    xc: [0, 1310, 0.2, 1726], yc: [0, 1658.1, 0.3, 1217.2],
    xt: [0, 0.05, 0.10, 0.15, 0.20], xl: ['0.00', '0.05', '0.10', '0.15', '0.20'],
    yt: [0, 0.1, 0.2, 0.3], yl: ['0.0', '0.1', '0.2', '0.3'],
    xTitle: ['Effect size (sAD Differential Abundance)', 1524, 1789], yTitle: ['Effect size (ADAD Differential Abundance)', 1215, 1468] });
  zeroLines(f);
  dots(f, hPoints, 4.2, col.teal);
  var ln = d3.line().curve(d3.curveMonotoneX).x(function(d) { return f.x(d[0]); }).y(function(d) { return f.y(d[1]); });
  seg(f, hPredUpper, '#9a9a9a', 1);
  seg(f, hPredLower, '#9a9a9a', 1);
  f.plot.append('path').attr('d', ln(hBandUpper)).attr('fill', 'none').attr('stroke', '#a8a8a8').attr('stroke-width', 1);
  f.plot.append('path').attr('d', ln(hBandLower)).attr('fill', 'none').attr('stroke', '#a8a8a8').attr('stroke-width', 1);
  seg(f, hFit, col.blue, 2.8);
  labels(f, hLabels, hLeaders, 13.5);
})();
rich(1273, 1299, ['R', '^2', ' = 0.74 ; p = 4.94 x 10', '^\u221273'], 24, '#111');

// panel letters
letter('A', 15, 20); letter('B', 1100, 18);
letter('C', 16, 611); letter('D', 616, 611); letter('E', 1216, 611);
letter('F', 16, 1220); letter('G', 617, 1220); letter('H', 1213, 1221);
</script>
</body>
</html>
